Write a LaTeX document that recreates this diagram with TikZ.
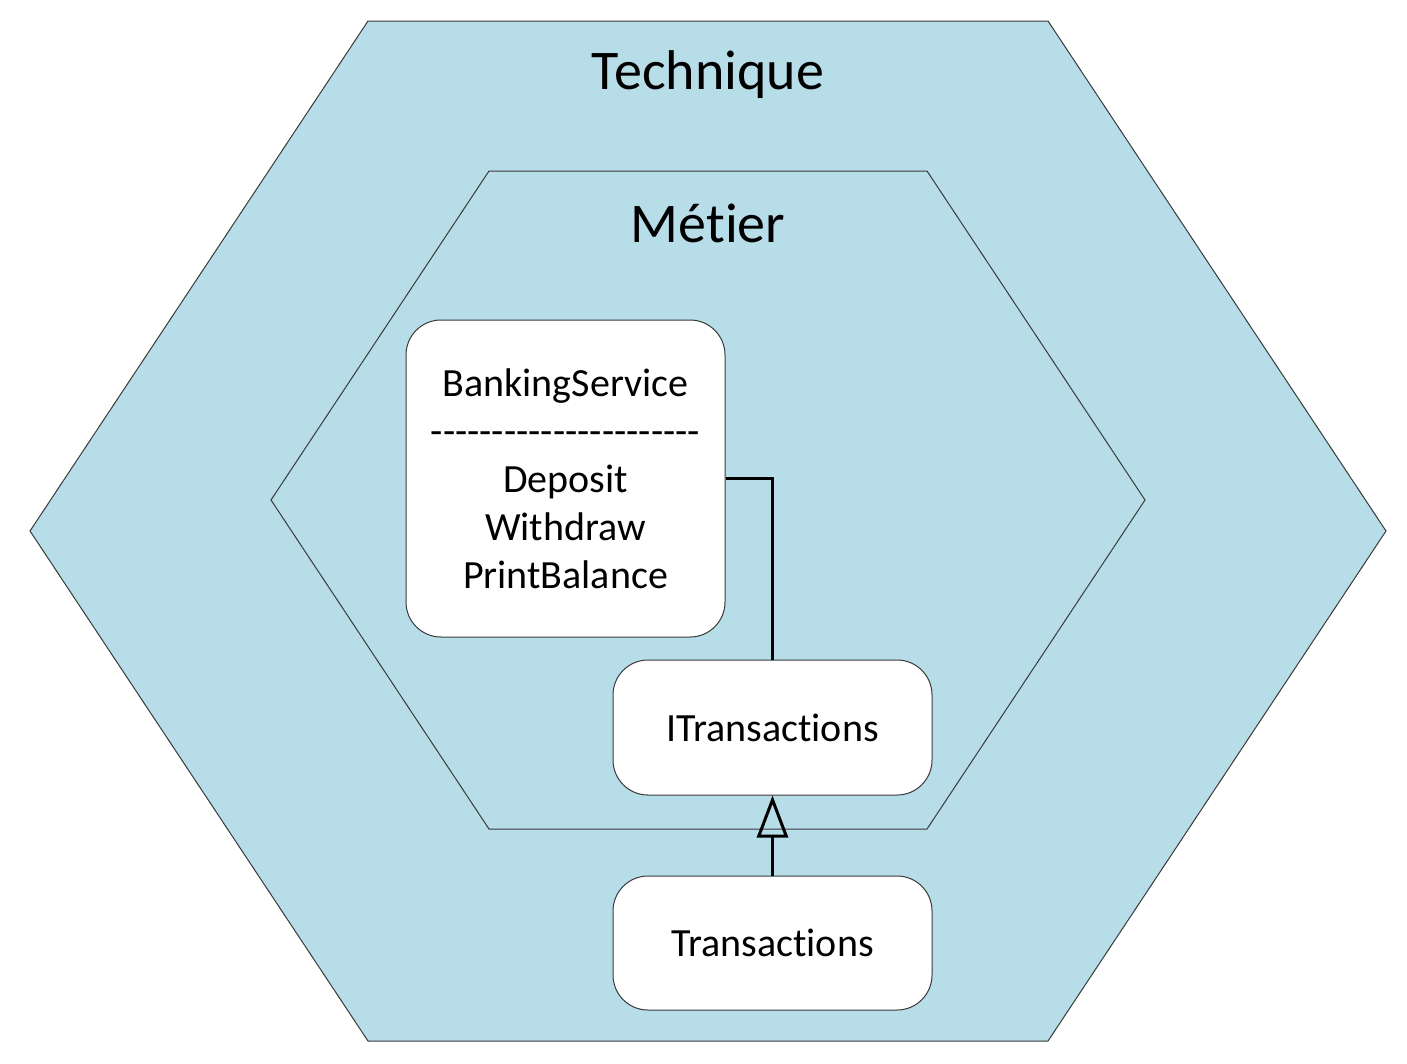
\documentclass[tikz,border=0pt]{standalone}
\usepackage{fontspec}
\setmainfont[Ligatures={TeXOff,NoCommon}]{Carlito}
\usetikzlibrary{arrows.meta}
\definecolor{hexfill}{HTML}{B7DDE8}
\definecolor{hexline}{HTML}{3A3A3A}
\begin{document}
\begin{tikzpicture}[x=1pt,y=-1pt,
  hexagon/.style={fill=hexfill,draw=hexline,line width=1pt,line join=miter},
  boxnode/.style={draw=hexline,fill=white,line width=1pt,rounded corners=35pt,minimum width=319pt,inner sep=0pt,align=center,font=\fontsize{40pt}{48pt}\selectfont},
  title/.style={font=\fontsize{56pt}{64pt}\selectfont},
  conn/.style={line width=3pt,draw=black}]
\useasboundingbox (0,0) rectangle (1407,1063);
\draw[hexagon] (368,21) -- (1048,21) -- (1386,531) -- (1048,1041) -- (368,1041) -- (30,531) -- cycle;
\draw[hexagon] (489,171) -- (927,171) -- (1145,500) -- (927,829) -- (489,829) -- (271,500) -- cycle;
\node[title] (tech) at (708,75) {Technique};
\node[title] (met) at (708,223) {Métier};
\node[boxnode,minimum height=317pt] (bs) at (565.5,478.5) {BankingService\\----------------------\\Deposit\\Withdraw\\PrintBalance};
\node[boxnode,minimum height=135pt] (it) at (772.5,727.5) {ITransactions};
\node[boxnode,minimum height=134pt] (tr) at (772.5,943) {Transactions};
\draw[conn] (bs.east) -| (it.north);
\draw[conn,-{Triangle[open,length=42pt,width=31pt,line width=3pt]}] (tr.north) -- (it.south);
\end{tikzpicture}
\end{document}
